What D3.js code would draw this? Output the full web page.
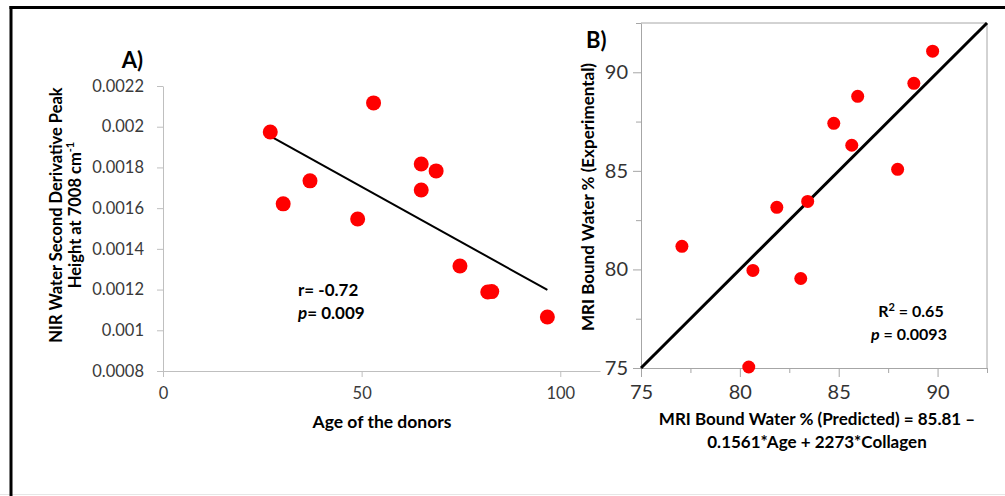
<!DOCTYPE html>
<html>
<head>
<meta charset="utf-8">
<script src="https://cdn.jsdelivr.net/npm/d3@7"></script>
<style>
  body { margin: 0; background: #fff; }
  svg { display: block; font-family: Lato, "Open Sans", sans-serif; }
  .tickA text { font-size: 16.5px; fill: #3a3a3a; }
  .tickB text { font-size: 20px; fill: #333; }
  .lbl { font-weight: 700; fill: #000; }
</style>
</head>
<body>
<div id="chart"></div>
<script>
// panel A: age vs NIR peak height
var ageA = [27, 30.25, 37, 53, 65, 68.75, 65, 49, 74.75, 81.75, 82.75, 96.75];
var nirA = [0.001974, 0.001621, 0.001734, 0.002117, 0.001817, 0.001783, 0.001689, 0.001547, 0.001316, 0.001188, 0.001190, 0.001065];
var xTicksA = [0, 50, 100];
var yTicksA = [0.0008, 0.001, 0.0012, 0.0014, 0.0016, 0.0018, 0.002, 0.0022];
var yTickLabelsA = ["0.0008", "0.001", "0.0012", "0.0014", "0.0016", "0.0018", "0.002", "0.0022"];

// panel B: predicted vs experimental bound water
var predB = [89.75, 88.8, 85.96, 84.75, 85.66, 87.98, 83.43, 81.87, 77.07, 80.66, 83.08, 80.45];
var expB  = [91.07, 89.44, 88.78, 87.41, 86.3, 85.08, 83.45, 83.15, 81.17, 79.95, 79.54, 75.05];
var majorB = [75, 80, 85, 90];
var minorB = [77.5, 82.5, 87.5, 92.5];

var W = 1005, H = 496;
var svg = d3.select("#chart").append("svg")
    .attr("width", W)
    .attr("height", H);

// frame lines
svg.append("line").attr("x1", 0).attr("x2", W).attr("y1", H - 1.5).attr("y2", H - 1.5)
   .attr("stroke", "#e6e6e6").attr("stroke-width", 1);
svg.append("line").attr("x1", 9.5).attr("x2", W).attr("y1", 7.5).attr("y2", 7.5)
   .attr("stroke", "#000").attr("stroke-width", 3);
svg.append("line").attr("x1", 11).attr("x2", 11).attr("y1", 6).attr("y2", H)
   .attr("stroke", "#000").attr("stroke-width", 3);

// ---------- panel A ----------
var xA = d3.scaleLinear().domain([0, 110]).range([163, 600]);
var yA = d3.scaleLinear().domain([0.0008, 0.0022]).range([371, 86]);

svg.append("g").attr("class", "tickA")
    .attr("transform", "translate(0," + yA(0.0008) + ")")
    .call(d3.axisBottom(xA).tickValues(xTicksA).tickSize(6).tickPadding(10).tickSizeOuter(0));
svg.append("g").attr("class", "tickA")
    .attr("transform", "translate(" + xA(0) + ",0)")
    .call(d3.axisLeft(yA).tickValues(yTicksA).tickSize(6).tickPadding(13).tickSizeOuter(0)
      .tickFormat(function(d, i) { return yTickLabelsA[i]; }));
svg.selectAll(".tickA path, .tickA line").attr("stroke", "#bfbfbf");
svg.selectAll(".tickA text").attr("font-family", "Lato, sans-serif");

// least squares trendline
var mx = d3.mean(ageA), my = d3.mean(nirA);
var sxy = d3.sum(ageA, function(d, i){ return (d - mx) * (nirA[i] - my); });
var sxx = d3.sum(ageA, function(d){ return (d - mx) * (d - mx); });
var slope = sxy / sxx, icpt = my - slope * mx;
var xr = d3.extent(ageA);
svg.append("line")
    .attr("x1", xA(xr[0])).attr("y1", yA(icpt + slope * xr[0]))
    .attr("x2", xA(xr[1])).attr("y2", yA(icpt + slope * xr[1]))
    .attr("stroke", "#000").attr("stroke-width", 2);

svg.selectAll("circle.a")
    .data(ageA)
    .enter()
    .append("circle")
    .attr("class", "a")
    .attr("fill", "#ff0000")
    .attr("r", 7.5)
    .attr("cx", function(d){ return xA(d); })
    .attr("cy", function(d, i){ return yA(nirA[i]); });

svg.append("text").attr("class", "lbl").attr("x", 143).attr("y", 68)
   .attr("text-anchor", "end").style("font-size", "22px").text("A)");

svg.append("text").attr("class", "lbl").attr("x", 382).attr("y", 428)
   .attr("text-anchor", "middle").style("font-size", "17.5px").text("Age of the donors");

var ylab = svg.append("g").attr("transform", "translate(0,215) rotate(-90)");
ylab.append("text").attr("class", "lbl").attr("x", 0).attr("y", 62)
   .attr("text-anchor", "middle").style("font-size", "16.5px").text("NIR Water Second Derivative Peak");
var l2 = ylab.append("text").attr("class", "lbl").attr("x", 0).attr("y", 81)
   .attr("text-anchor", "middle").style("font-size", "16.5px");
l2.append("tspan").text("Height at 7008 cm");
l2.append("tspan").attr("dy", -7).style("font-size", "11px").text("-1");

svg.append("text").attr("class", "lbl").attr("x", 298).attr("y", 296)
   .style("font-size", "17px").text("r= -0.72");
var pt = svg.append("text").attr("class", "lbl").attr("x", 298).attr("y", 319)
   .style("font-size", "17px");
pt.append("tspan").attr("font-style", "italic").text("p");
pt.append("tspan").text("= 0.009");

// ---------- panel B ----------
var xB = d3.scaleLinear().domain([75, 92.5]).range([641, 987]);
var yB = d3.scaleLinear().domain([75, 92.5]).range([368, 23]);

svg.append("g").attr("class", "tickB minor")
    .attr("transform", "translate(0," + yB(75) + ")")
    .call(d3.axisBottom(xB).tickValues(minorB).tickSize(5).tickFormat(""));
svg.append("g").attr("class", "tickB minor")
    .attr("transform", "translate(" + xB(75) + ",0)")
    .call(d3.axisLeft(yB).tickValues(minorB).tickSize(5).tickFormat(""));
svg.append("g").attr("class", "tickB")
    .attr("transform", "translate(0," + yB(75) + ")")
    .call(d3.axisBottom(xB).tickValues(majorB).tickSize(9).tickPadding(8).tickSizeOuter(0));
svg.append("g").attr("class", "tickB")
    .attr("transform", "translate(" + xB(75) + ",0)")
    .call(d3.axisLeft(yB).tickValues(majorB).tickSize(8).tickPadding(5).tickSizeOuter(0));
svg.selectAll(".tickB path, .tickB line").attr("stroke", "#a6a6a6");
svg.selectAll(".tickB.minor path").remove();
svg.selectAll(".tickB text").attr("font-family", "Lato, sans-serif");

// top and right frame
svg.append("path")
    .attr("d", "M" + xB(75) + "," + yB(92.5) + "H" + xB(92.5) + "V" + yB(75))
    .attr("fill", "none").attr("stroke", "#a6a6a6").attr("stroke-width", 1);

// identity line
svg.append("line")
    .attr("x1", xB(75)).attr("y1", yB(75))
    .attr("x2", xB(92.5)).attr("y2", yB(92.5))
    .attr("stroke", "#000").attr("stroke-width", 3);

svg.selectAll("circle.b")
    .data(predB)
    .enter()
    .append("circle")
    .attr("class", "b")
    .attr("fill", "#ff0000")
    .attr("r", 6.5)
    .attr("cx", function(d){ return xB(d); })
    .attr("cy", function(d, i){ return yB(expB[i]); });

svg.append("text").attr("class", "lbl").attr("x", 586).attr("y", 48)
   .style("font-size", "22px").text("B)");

svg.append("text").attr("class", "lbl")
   .attr("transform", "translate(594,197) rotate(-90)")
   .attr("text-anchor", "middle").style("font-size", "17px")
   .text("MRI Bound Water % (Experimental)");

svg.append("text").attr("class", "lbl").attr("x", 817).attr("y", 425)
   .attr("text-anchor", "middle").style("font-size", "17px")
   .text("MRI Bound Water % (Predicted) = 85.81 \u2013");
svg.append("text").attr("class", "lbl").attr("x", 817).attr("y", 448)
   .attr("text-anchor", "middle").style("font-size", "17px")
   .text("0.1561*Age + 2273*Collagen");

var r2 = svg.append("text").attr("class", "lbl").attr("x", 911).attr("y", 317)
   .attr("text-anchor", "middle").style("font-size", "16px");
r2.append("tspan").text("R");
r2.append("tspan").attr("dy", -6).style("font-size", "11px").text("2");
r2.append("tspan").attr("dy", 6).text(" = 0.65");
var pb = svg.append("text").attr("class", "lbl").attr("x", 909).attr("y", 340)
   .attr("text-anchor", "middle").style("font-size", "16px");
pb.append("tspan").attr("font-style", "italic").text("p");
pb.append("tspan").text(" = 0.0093");
</script>
</body>
</html>
